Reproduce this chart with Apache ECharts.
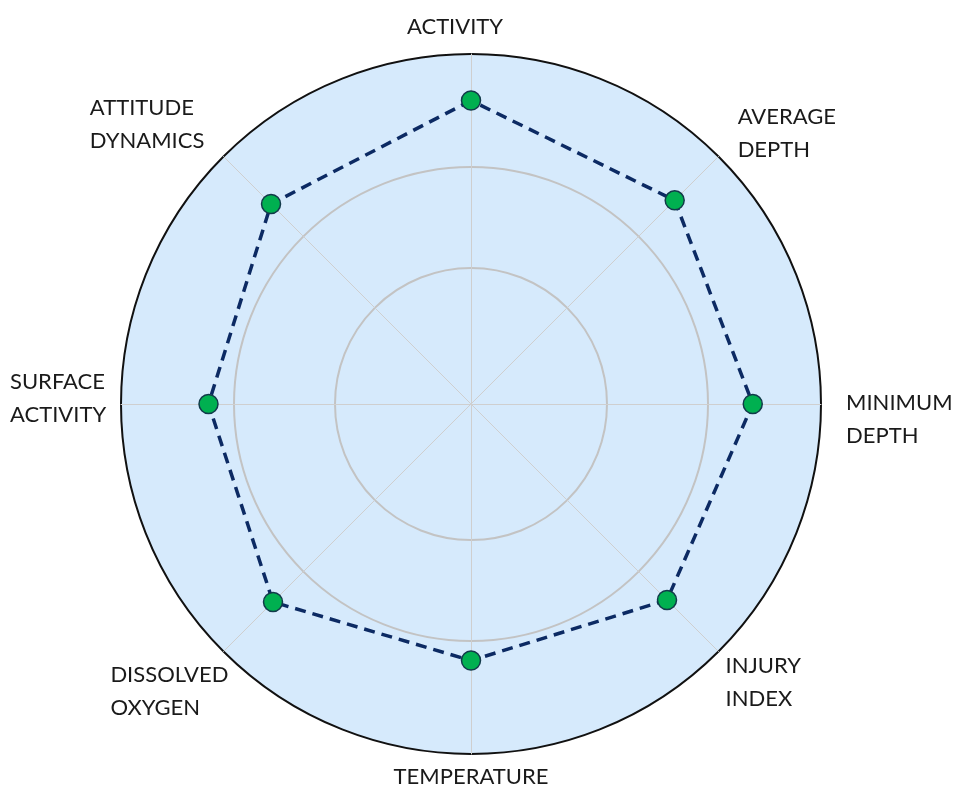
<!DOCTYPE html>
<html lang="en">
<head>
    <meta charset="UTF-8">
    <title>Radar</title>
    <script src="https://cdn.jsdelivr.net/npm/echarts@6/dist/echarts.min.js"></script>
    <style>
        html, body { margin: 0; padding: 0; background: #fff; }
        #main { width: 963px; height: 789px; }
    </style>
</head>
<body>
<div id="main"></div>
<script>
    // indicators, counterclockwise from the top (echarts radar order)
    var categories = ['ACTIVITY', 'ATTITUDE\nDYNAMICS', 'SURFACE\nACTIVITY', 'DISSOLVED\nOXYGEN',
        'TEMPERATURE', 'INJURY\nINDEX', 'MINIMUM\nDEPTH', 'AVERAGE\nDEPTH']
    var values = [86.7, 80.8, 75.0, 80.0, 73.3, 79.2, 80.5, 82.3]
    var axisMax = 100

    var center = [471, 404]

    // name placement per indicator (gap from the circle, alignment, padding)
    var nameLayout = [
        { gap: 44, align: 'center', v: 'top', pad: [0, 32, 0, 0] },
        { gap: 189, align: 'left', v: 'top', pad: [69, 0, 0, 0] },
        { gap: 111, align: 'left', v: 'middle', pad: [0, 0, 11, 0] },
        { gap: 160, align: 'left', v: 'bottom', pad: [0, 0, 40, 0] },
        { gap: 6, align: 'center', v: 'top', pad: [0, 0, 0, 0] },
        { gap: 10, align: 'left', v: 'middle', pad: [48, 0, 0, 0] },
        { gap: 25, align: 'left', v: 'middle', pad: [31, 0, 0, 0] },
        { gap: 20, align: 'left', v: 'middle', pad: [0, 0, 17, 5] }
    ]

    var nameFont = { color: '#1a1a1a', fontFamily: 'Lato', fontSize: 22, lineHeight: 33 }

    function indicators(withNames) {
        return categories.map(function (c, i) {
            var ind = { name: withNames ? c : '', max: axisMax, min: 0 }
            if (withNames) {
                var l = nameLayout[i]
                ind.nameGap = l.gap
                ind.nameTextStyle = { align: l.align, verticalAlign: l.v, padding: l.pad }
            }
            return ind
        })
    }

    // extra ring used only for the grey inner circles
    function ring(r) {
        return {
            center: center,
            radius: r,
            shape: 'circle',
            splitNumber: 1,
            indicator: indicators(false),
            axisName: { show: false },
            axisLine: { show: false },
            axisTick: { show: false },
            splitArea: { show: false },
            splitLine: { lineStyle: { color: '#c3c3c3', width: 2 } }
        }
    }

    var chart = echarts.init(document.getElementById('main'))
    var option = {
        backgroundColor: '#fff',
        animation: false,
        radar: [{
            center: center,
            radius: 350,
            shape: 'circle',
            splitNumber: 1,
            nameGap: 12,
            indicator: indicators(true),
            axisName: {
                color: nameFont.color,
                fontFamily: nameFont.fontFamily,
                fontSize: nameFont.fontSize,
                lineHeight: nameFont.lineHeight,
                // rich text so that padding also works for middle-aligned names
                formatter: function (name) {
                    return name.split('\n').map(function (s) { return '{n|' + s + '}' }).join('\n')
                },
                rich: { n: nameFont }
            },
            axisLine: { lineStyle: { color: '#cfcfcf', width: 1 } },
            splitLine: { lineStyle: { color: '#111', width: 2 } },
            splitArea: { show: true, areaStyle: { color: ['#d6eafc'] } }
        }, ring(237), ring(136)],
        series: [{
            type: 'radar',
            radarIndex: 0,
            symbol: 'circle',
            symbolSize: 19,
            lineStyle: { color: '#0c2a63', width: 3.5, type: [11, 7] },
            itemStyle: { color: '#00b050', borderColor: '#123a4a', borderWidth: 1.5 },
            data: [{ value: values }]
        }]
    }
    chart.setOption(option)
</script>
</body>
</html>
